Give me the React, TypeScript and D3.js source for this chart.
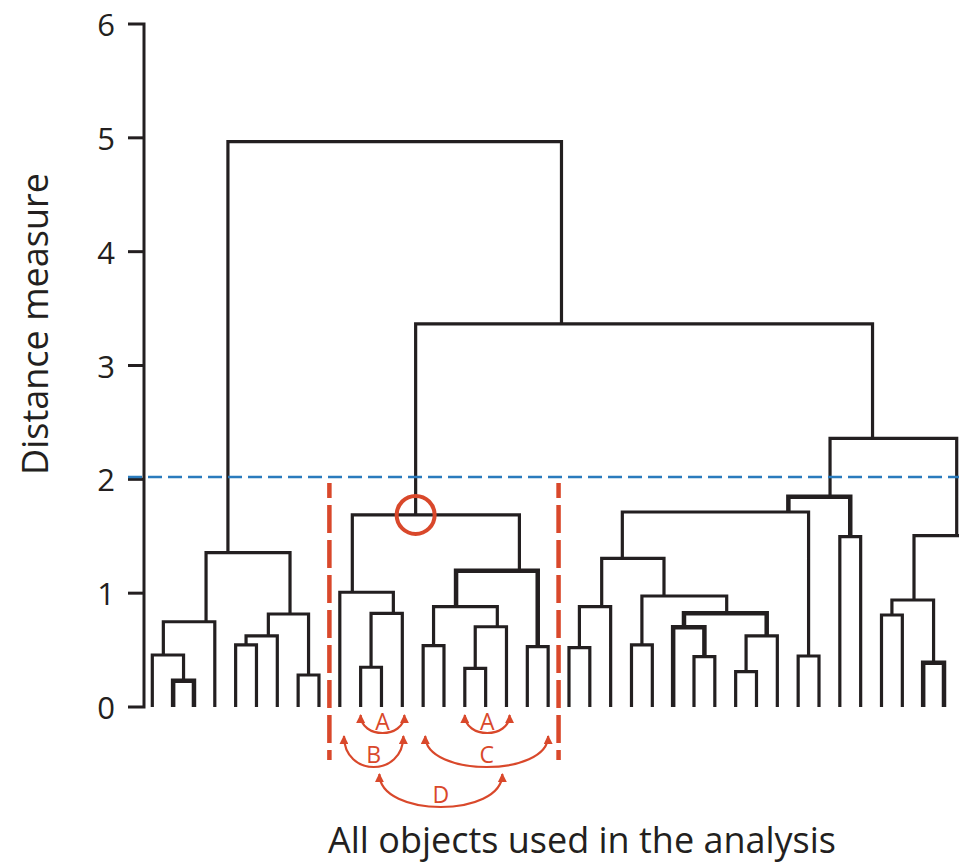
import React from 'react';
import * as d3 from 'd3';

const W = 959;
const H = 866;

// 39 visible objects plus 2 objects cropped at the right edge of the figure
const LEAF_COUNT = 41;
const Y_TICKS = [0, 1, 2, 3, 4, 5, 6];
const Y_LABEL = 'Distance measure';
const X_LABEL = 'All objects used in the analysis';
const CUT_HEIGHT = 2.02;
const CLUSTER_BOUNDS = [8.5, 19.5];
const HIGHLIGHT_NODE = 'M10';

type Child = string | number;
type Merge = [string, Child, Child, number, number];
// [id, left child, right child, merge height, position along the leaf axis]
const LEFT_MERGES: Merge[] = [
  ['L1', 1, 2, 0.231, 1.5],
  ['L2', 0, 'L1', 0.457, 0.53],
  ['L3', 'L2', 3, 0.749, 2.58],
  ['L4', 4, 5, 0.545, 4.5],
  ['L5', 'L4', 6, 0.624, 5.57],
  ['L6', 7, 8, 0.281, 7.5],
  ['L7', 'L5', 'L6', 0.817, 6.61],
  ['L8', 'L3', 'L7', 1.356, 3.63],
];
const MIDDLE_MERGES: Merge[] = [
  ['M1', 10, 11, 0.349, 10.5],
  ['M2', 'M1', 12, 0.823, 11.57],
  ['M3', 9, 'M2', 1.008, 9.6],
  ['M4', 13, 14, 0.539, 13.5],
  ['M5', 15, 16, 0.34, 15.5],
  ['M6', 'M5', 17, 0.705, 16.56],
  ['M7', 'M4', 'M6', 0.881, 14.58],
  ['M8', 18, 19, 0.53, 18.5],
  ['M9', 'M7', 'M8', 1.197, 17.62],
  ['M10', 'M3', 'M9', 1.687, 12.64],
];
const RIGHT_MERGES: Merge[] = [
  ['R1', 20, 21, 0.521, 20.5],
  ['R2', 'R1', 22, 0.881, 21.57],
  ['R3', 23, 24, 0.545, 23.5],
  ['R4', 26, 27, 0.442, 26.5],
  ['R5', 25, 'R4', 0.7, 25.52],
  ['R6', 28, 29, 0.31, 28.5],
  ['R7', 'R6', 30, 0.624, 29.49],
  ['R8', 'R5', 'R7', 0.823, 27.57],
  ['R9', 'R3', 'R8', 0.975, 24.56],
  ['R10', 'R2', 'R9', 1.306, 22.56],
  ['R11', 31, 32, 0.448, 31.5],
  ['R12', 'R10', 'R11', 1.713, 30.53],
  ['R13', 33, 34, 1.496, 33.5],
  ['R14', 'R12', 'R13', 1.847, 32.53],
  ['R15', 35, 36, 0.808, 35.5],
  ['R16', 37, 38, 0.389, 37.5],
  ['R17', 'R15', 'R16', 0.94, 36.56],
  ['R18', 39, 40, 1.2, 39.5],
  ['R19', 'R17', 'R18', 1.505, 38.61],
  ['R20', 'R14', 'R19', 2.36, 34.57],
];
const TOP_MERGES: Merge[] = [
  ['T1', 'M10', 'R20', 3.365, 19.64],
  ['ROOT', 'L8', 'T1', 4.966, 11.5],
];

// Comparison annotations below the leaves (leaf-axis units)
const ARC_LABELS = ['A', 'A', 'B', 'C', 'D'];
const ARC_FROM = [10, 15, 9.2, 13.1, 10.9];
const ARC_TO = [12.1, 17.15, 12.05, 19, 16.8];
const ARC_ROW = [0, 0, 1, 1, 2];

// ---- styles ----
const INK = '#231f20';
const RED = '#d9482b';
const BLUE = '#2a7bbd';
const FONT = "'Open Sans', 'Noto Sans', sans-serif";
const BOLD = new Set(['L1', 'M9', 'R5', 'R8', 'R14', 'R16']);
const ROWS = [
  { tip: 715, depth: 18, text: 721 },
  { tip: 736, depth: 31, text: 754 },
  { tip: 774, depth: 33, text: 794 },
];

export default function App() {
  const x = d3.scaleLinear().domain([0, 38]).range([152.3, 944]);
  const y = d3.scaleLinear().domain([0, 6]).range([707, 24]);

  const merges = [...LEFT_MERGES, ...MIDDLE_MERGES, ...RIGHT_MERGES, ...TOP_MERGES];
  const nodeMap = new Map<string, { pos: number; h: number }>();
  merges.forEach(([id, , , h, pos]) => nodeMap.set(id, { pos, h }));
  const info = (c: Child) =>
    typeof c === 'number' ? { pos: c, h: 0 } : (nodeMap.get(c) as { pos: number; h: number });

  const hl = nodeMap.get(HIGHLIGHT_NODE)!;
  const axisX = 144;
  void LEAF_COUNT;

  return (
    <svg
      width={W}
      height={H}
      viewBox={`0 0 ${W} ${H}`}
      style={{ position: 'absolute', left: 0, top: 0, background: '#fff' }}
    >
      <defs>
        <marker
          id="arrow"
          viewBox="0 0 10 10"
          refX="9"
          refY="5"
          markerWidth="10"
          markerHeight="9"
          markerUnits="userSpaceOnUse"
          orient="auto-start-reverse"
        >
          <path d="M0,0L10,5L0,10z" fill={RED} />
        </marker>
      </defs>

      {/* y axis */}
      <path
        d={`M128,${y(6)}H${axisX}V${y(0)}H128`}
        fill="none"
        stroke={INK}
        strokeWidth={3}
      />
      {Y_TICKS.filter((t) => t !== 0 && t !== 6).map((t) => (
        <line key={t} x1={128} x2={axisX} y1={y(t)} y2={y(t)} stroke={INK} strokeWidth={3} />
      ))}
      {Y_TICKS.map((t) => (
        <text
          key={'l' + t}
          x={115}
          y={y(t)}
          textAnchor="end"
          dominantBaseline="central"
          fontFamily={FONT}
          fontSize={31}
          fill={INK}
        >
          {t}
        </text>
      ))}
      <text
        transform={`translate(48,324) rotate(-90)`}
        textAnchor="middle"
        fontFamily={FONT}
        fontSize={37}
        fill={INK}
        textLength={302}
        lengthAdjust="spacingAndGlyphs"
      >
        {Y_LABEL}
      </text>

      {/* dendrogram */}
      {merges.map(([id, l, r, h]) => {
        const a = info(l);
        const b = info(r);
        return (
          <path
            key={id}
            d={`M${x(a.pos)},${y(a.h)}V${y(h)}H${x(b.pos)}V${y(b.h)}`}
            fill="none"
            stroke={INK}
            strokeWidth={BOLD.has(id) ? 4.5 : 3.2}
            strokeLinejoin="miter"
          />
        );
      })}

      {/* cut line */}
      <line
        x1={128}
        x2={W}
        y1={y(CUT_HEIGHT)}
        y2={y(CUT_HEIGHT)}
        stroke={BLUE}
        strokeWidth={2.5}
        strokeDasharray="14 6"
      />

      {/* cluster boundaries */}
      {CLUSTER_BOUNDS.map((b) => (
        <line
          key={b}
          x1={x(b)}
          x2={x(b)}
          y1={y(CUT_HEIGHT) + 6}
          y2={760}
          stroke={RED}
          strokeWidth={4.5}
          strokeDasharray="28 7"
          strokeDashoffset={13}
        />
      ))}

      {/* highlighted merge */}
      <circle cx={x(hl.pos)} cy={y(hl.h)} r={19} fill="none" stroke={RED} strokeWidth={4} />

      {/* comparison arcs */}
      {ARC_LABELS.map((lab, i) => {
        const row = ROWS[ARC_ROW[i]];
        const x1 = x(ARC_FROM[i]);
        const x2 = x(ARC_TO[i]);
        const c = row.tip + (row.depth * 4) / 3;
        return (
          <g key={i}>
            <path
              d={`M${x1},${row.tip}C${x1},${c} ${x2},${c} ${x2},${row.tip}`}
              fill="none"
              stroke={RED}
              strokeWidth={2.2}
              markerStart="url(#arrow)"
              markerEnd="url(#arrow)"
            />
            <text
              x={(x1 + x2) / 2}
              y={row.text}
              textAnchor="middle"
              dominantBaseline="central"
              fontFamily={FONT}
              fontSize={23}
              fill={RED}
            >
              {lab}
            </text>
          </g>
        );
      })}

      <text
        x={582}
        y={853}
        textAnchor="middle"
        fontFamily={FONT}
        fontSize={37}
        fill={INK}
        textLength={508}
        lengthAdjust="spacingAndGlyphs"
      >
        {X_LABEL}
      </text>
    </svg>
  );
}
